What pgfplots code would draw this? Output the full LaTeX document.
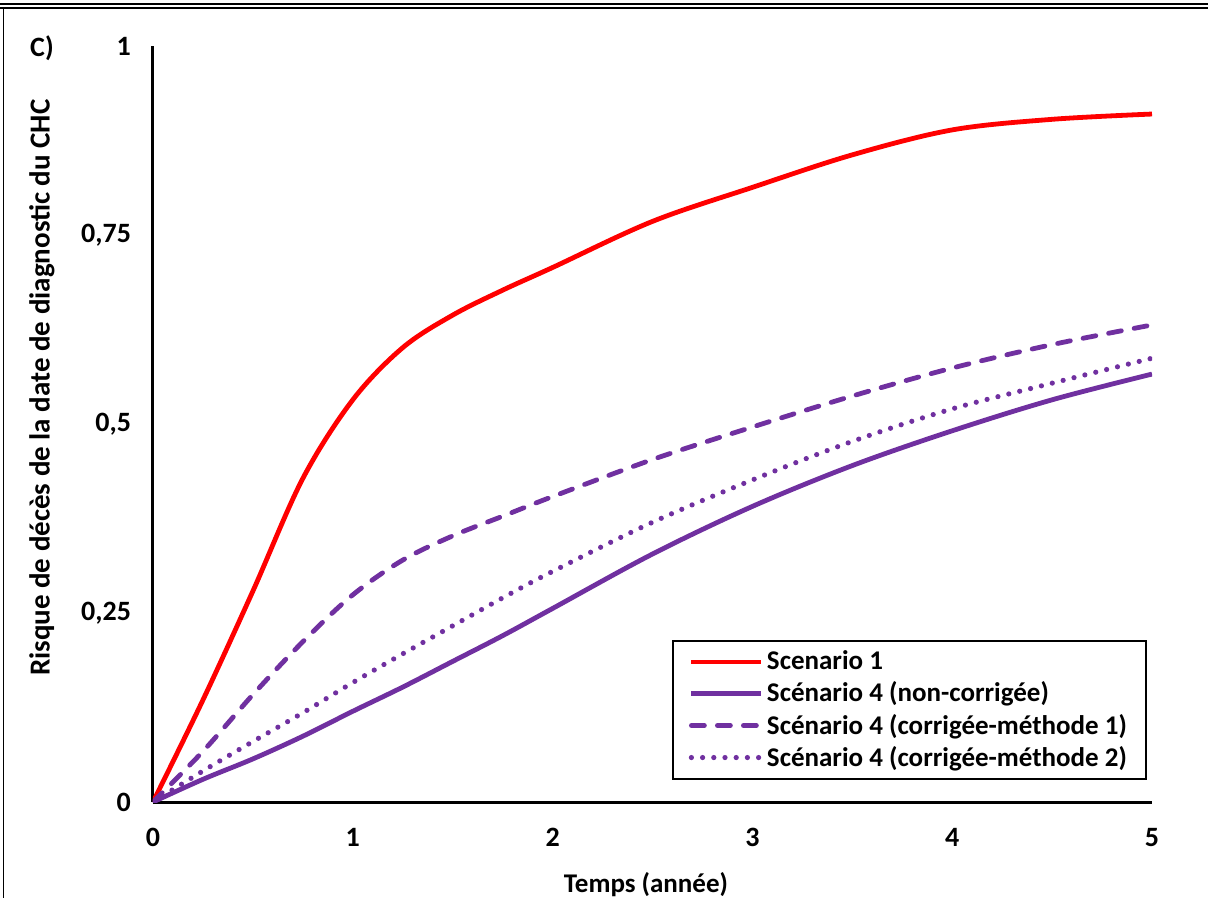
\documentclass[border=0pt]{standalone}
\usepackage{fontspec}
\setmainfont{Carlito}
\usepackage{pgfplots}
\pgfplotsset{compat=1.18}
\definecolor{scred}{HTML}{FF0000}
\definecolor{scpurple}{HTML}{7030A0}
\begin{document}
\begin{tikzpicture}
\useasboundingbox (-76.5pt,-48pt) rectangle (527.5pt,401pt);
\draw[line width=0.8pt] (-76.5pt,399pt) -- (527.5pt,399pt);
\draw[line width=0.8pt] (-76.5pt,397pt) -- (527.5pt,397pt);
\draw[line width=0.8pt] (-74.75pt,397pt) -- (-74.75pt,-48pt);
\node[font=\bfseries\fontsize{14}{16}\selectfont] at (-55.5pt,377pt) {C)};
\begin{axis}[
  at={(0pt,0pt)}, anchor=south west,
  scale only axis, width=499.5pt, height=378pt,
  xmin=0, xmax=5, ymin=0, ymax=1,
  axis x line=bottom, axis y line=left,
  axis line style={line width=1.5pt,-},
  xtick={0,1,2,3,4,5},
  ytick={0,0.25,0.5,0.75,1},
  yticklabels={0,{0,25},{0,5},{0,75},1},
  major tick length=0pt,
  /pgf/number format/assume math mode=true,
  ticklabel style={font=\bfseries\fontsize{14}{16}\selectfont},
  xticklabel style={yshift=-9.5pt},
  yticklabel style={xshift=-7.5pt},
  xlabel={Temps (année)},
  xlabel style={at={(axis description cs:0.4935,-0.1098)}, anchor=center, font=\bfseries\fontsize{13.5}{16}\selectfont},
  ylabel={Risque de décès de la date de diagnostic du CHC},
  ylabel style={at={(axis description cs:-0.1111,0.548)}, anchor=center, font=\bfseries\fontsize{14.5}{17}\selectfont},
  legend style={at={(axis description cs:0.995,0.029)}, anchor=south east, draw=black, line width=1pt,
    font=\bfseries\fontsize{13.5}{15}\selectfont, inner xsep=8pt, inner ysep=3.5pt, row sep=1.5pt,
    nodes={inner sep=1.5pt}},
  legend cell align=left,
  legend image code/.code={\draw[#1] (0pt,0pt) -- (35pt,0pt);},
]
\addplot[scred, line width=2.4pt, smooth, tension=0.55] coordinates {
(0,0) (0.25,0.135) (0.5,0.279) (0.75,0.428) (1,0.532) (1.25,0.601) (1.5,0.644) (1.75,0.677)
(2,0.707) (2.5,0.768) (3,0.813) (3.5,0.856) (4,0.889) (4.5,0.903) (5,0.91)};
\addlegendentry{Scenario 1}
\addplot[scpurple, line width=2.4pt, smooth, tension=0.55] coordinates {
(0,0) (0.25,0.03) (0.5,0.057) (0.75,0.087) (1,0.12) (1.25,0.152) (1.5,0.186) (1.75,0.22)
(2,0.256) (2.5,0.328) (3,0.391) (3.5,0.445) (4,0.491) (4.5,0.532) (5,0.566)};
\addlegendentry{Scénario 4 (non-corrigée)}
\addplot[scpurple, line width=2.4pt, smooth, tension=0.55, line cap=round, dash pattern=on 6.5pt off 6.5pt] coordinates {
(0,0) (0.25,0.067) (0.5,0.142) (0.75,0.212) (1,0.274) (1.25,0.32) (1.5,0.352) (1.75,0.378)
(2,0.404) (2.5,0.453) (3,0.496) (3.5,0.537) (4,0.574) (4.5,0.605) (5,0.631)};
\addlegendentry{Scénario 4 (corrigée-méthode 1)}
\addplot[scpurple, line width=2.6pt, smooth, tension=0.55, line cap=round, dash pattern=on 0pt off 5.6pt] coordinates {
(0,0) (0.25,0.041) (0.5,0.08) (0.75,0.118) (1,0.158) (1.25,0.196) (1.5,0.233) (1.75,0.27)
(2,0.305) (2.5,0.37) (3,0.426) (3.5,0.477) (4,0.52) (4.5,0.554) (5,0.587)};
\addlegendentry{Scénario 4 (corrigée-méthode 2)}
\end{axis}
\end{tikzpicture}
\end{document}
